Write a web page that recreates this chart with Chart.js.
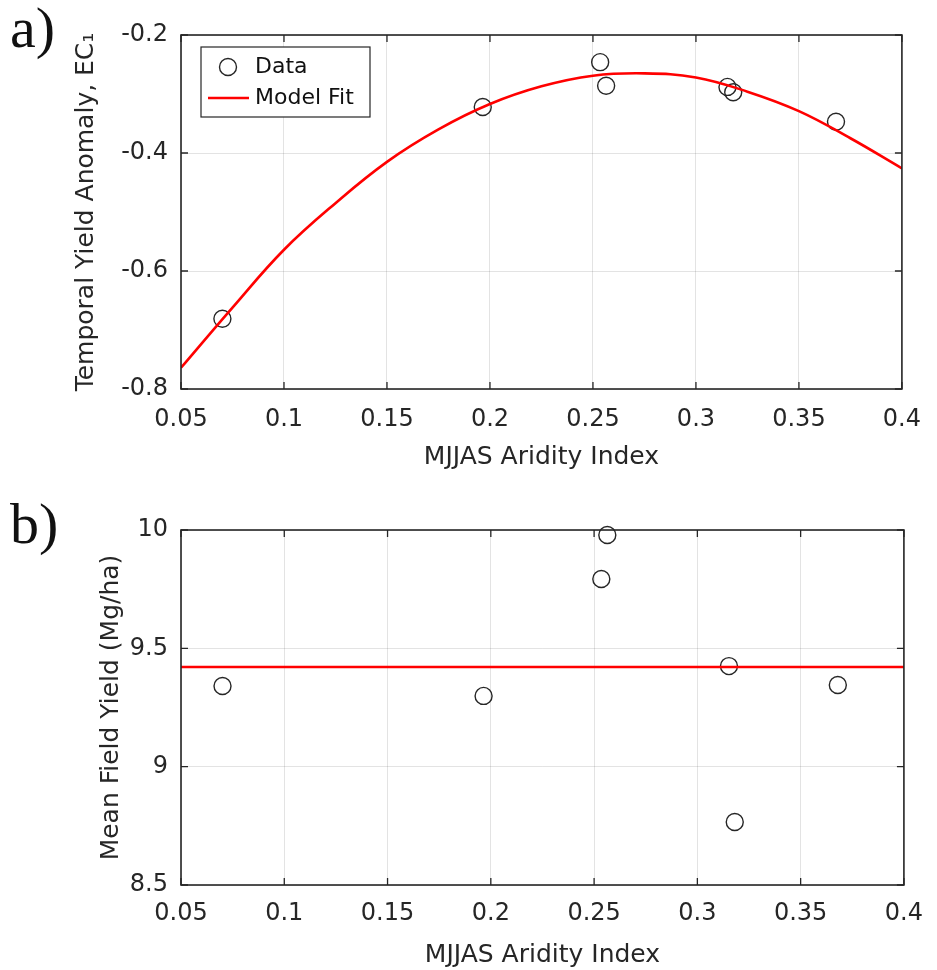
<!DOCTYPE html>
<html>
<head>
<meta charset="utf-8">
<script src="https://cdn.jsdelivr.net/npm/chart.js@4.4.1/dist/chart.umd.min.js"></script>
<style>
body { margin: 0; background: #fff; }
.panel { position: absolute; left: 0; width: 937px; height: 485px; }
</style>
</head>
<body>
<div class="panel" style="top:0"><canvas id="chartA"></canvas></div>
<div class="panel" style="top:485px"><canvas id="chartB"></canvas></div>
<script>
// data
const aridity = [0.0701, 0.1965, 0.2535, 0.2564, 0.3153, 0.3181, 0.368];
const anomaly = [-0.681, -0.322, -0.246, -0.286, -0.288, -0.297, -0.347];
const meanYield = [9.341, 9.299, 9.793, 9.979, 9.425, 8.766, 9.345];

const fitX = [0.05, 0.075, 0.1, 0.125, 0.15, 0.175, 0.2, 0.225, 0.25, 0.275, 0.3, 0.325, 0.35, 0.375, 0.4];
const fitAnomaly = [-0.764, -0.662, -0.564, -0.485, -0.415, -0.360, -0.317, -0.287, -0.269, -0.265, -0.272, -0.296, -0.329, -0.375, -0.426];
const fitYieldX = [0.05, 0.4];
const fitYield = [9.421, 9.421];

const xTicks = [0.05, 0.1, 0.15, 0.2, 0.25, 0.3, 0.35, 0.4];
const xTickLabels = ['0.05', '0.1', '0.15', '0.2', '0.25', '0.3', '0.35', '0.4'];
const anomalyTicks = [-0.8, -0.6, -0.4, -0.2];
const anomalyTickLabels = ['-0.8', '-0.6', '-0.4', '-0.2'];
const yieldTicks = [8.5, 9, 9.5, 10];
const yieldTickLabels = ['8.5', '9', '9.5', '10'];

const ink = '#262626';
const gridColor = 'rgba(0,0,0,0.11)';
Chart.defaults.font.family = '"DejaVu Sans", sans-serif';
Chart.defaults.color = ink;

function pairs(xs, ys) {
    return xs.map((x, i) => ({x: x, y: ys[i]}));
}

// box round the axes with inward ticks, plus the panel letter
function framePlugin(letter, letterY) {
    return {
        id: 'frame',
        afterDraw(chart) {
            const ctx = chart.ctx;
            const a = chart.chartArea;
            const tl = 7;
            ctx.save();
            ctx.strokeStyle = ink;
            ctx.lineWidth = 1.3;
            ctx.beginPath();
            chart.scales.x.ticks.forEach(t => {
                const px = chart.scales.x.getPixelForValue(t.value);
                ctx.moveTo(px, a.bottom); ctx.lineTo(px, a.bottom - tl);
                ctx.moveTo(px, a.top); ctx.lineTo(px, a.top + tl);
            });
            chart.scales.y.ticks.forEach(t => {
                const py = chart.scales.y.getPixelForValue(t.value);
                ctx.moveTo(a.left, py); ctx.lineTo(a.left + tl, py);
                ctx.moveTo(a.right, py); ctx.lineTo(a.right - tl, py);
            });
            ctx.stroke();
            ctx.lineWidth = 1.6;
            ctx.strokeRect(a.left, a.top, a.right - a.left, a.bottom - a.top);
            ctx.fillStyle = '#111';
            ctx.font = '58px "Liberation Serif", serif';
            ctx.textBaseline = 'alphabetic';
            ctx.textAlign = 'left';
            ctx.fillText(letter, 10, letterY);
            ctx.restore();
        }
    };
}

const legendPlugin = {
    id: 'boxLegend',
    afterDraw(chart) {
        const ctx = chart.ctx;
        ctx.save();
        ctx.fillStyle = '#fff';
        ctx.fillRect(201, 47, 169, 70);
        ctx.strokeStyle = ink;
        ctx.lineWidth = 1.2;
        ctx.strokeRect(201, 47, 169, 70);
        ctx.beginPath();
        ctx.arc(228, 67, 8.5, 0, Math.PI * 2);
        ctx.lineWidth = 1.4;
        ctx.stroke();
        ctx.strokeStyle = '#ff0000';
        ctx.lineWidth = 2.5;
        ctx.beginPath();
        ctx.moveTo(208, 98); ctx.lineTo(249, 98);
        ctx.stroke();
        ctx.fillStyle = '#111';
        ctx.font = '22px "DejaVu Sans", sans-serif';
        ctx.textBaseline = 'middle';
        ctx.fillText('Data', 255, 67);
        ctx.fillText('Model Fit', 255, 98);
        ctx.restore();
    }
};

function makeChart(id, cfg) {
    return new Chart(document.getElementById(id), {
        data: {
            datasets: [
                {
                    type: 'scatter',
                    label: 'Data',
                    data: pairs(aridity, cfg.points),
                    pointStyle: 'circle',
                    pointRadius: 8.5,
                    pointHoverRadius: 8.5,
                    pointBorderWidth: 1.4,
                    pointBorderColor: ink,
                    pointBackgroundColor: 'rgba(0,0,0,0)',
                    clip: false,
                    order: 2
                },
                {
                    type: 'line',
                    label: 'Model Fit',
                    data: pairs(cfg.fitX, cfg.fitY),
                    borderColor: '#ff0000',
                    borderWidth: 2.6,
                    pointRadius: 0,
                    tension: 0.4,
                    fill: false,
                    order: 1
                }
            ]
        },
        options: {
            responsive: true,
            maintainAspectRatio: false,
            animation: false,
            layout: { padding: { left: 0, right: cfg.padRight, top: cfg.padTop, bottom: 0 } },
            plugins: { legend: { display: false }, tooltip: { enabled: false } },
            scales: {
                x: {
                    type: 'linear',
                    min: 0.05,
                    max: 0.4,
                    afterBuildTicks: s => { s.ticks = xTicks.map(v => ({value: v})); },
                    afterFit: s => { s.height = cfg.xHeight; },
                    grid: { color: gridColor, drawTicks: false },
                    border: { display: false },
                    ticks: {
                        callback: (v, i) => xTickLabels[i],
                        font: { size: 24 },
                        padding: cfg.xTickPad,
                        maxRotation: 0,
                        autoSkip: false
                    },
                    title: {
                        display: true,
                        text: 'MJJAS Aridity Index',
                        font: { size: 25 },
                        padding: { top: 0, bottom: cfg.xTitlePad }
                    }
                },
                y: {
                    type: 'linear',
                    min: cfg.yTicks[0],
                    max: cfg.yTicks[cfg.yTicks.length - 1],
                    afterBuildTicks: s => { s.ticks = cfg.yTicks.map(v => ({value: v})); },
                    afterFit: s => { s.width = 181; },
                    grid: { color: gridColor, drawTicks: false },
                    border: { display: false },
                    ticks: {
                        callback: (v, i) => cfg.yLabels[i],
                        font: { size: 24 },
                        padding: 13
                    },
                    title: {
                        display: true,
                        text: cfg.yTitle,
                        font: { size: 25 },
                        padding: { top: cfg.yTitlePad, bottom: 0 }
                    }
                }
            }
        },
        plugins: cfg.plugins
    });
}

makeChart('chartA', {
    points: anomaly,
    fitX: fitX,
    fitY: fitAnomaly,
    yTicks: anomalyTicks,
    yLabels: anomalyTickLabels,
    yTitle: 'Temporal Yield Anomaly, EC\u2081',
    yTitlePad: 71,
    padTop: 35,
    padRight: 25,
    xHeight: 96,
    xTickPad: 16,
    xTitlePad: 13,
    plugins: [framePlugin('a)', 47), legendPlugin]
});

makeChart('chartB', {
    points: meanYield,
    fitX: fitYieldX,
    fitY: fitYield,
    yTicks: yieldTicks,
    yLabels: yieldTickLabels,
    yTitle: 'Mean Field Yield (Mg/ha)',
    yTitlePad: 96,
    padTop: 45,
    padRight: 24,
    xHeight: 85,
    xTickPad: 14,
    xTitlePad: 0,
    plugins: [framePlugin('b)', 58)]
});
</script>
</body>
</html>
